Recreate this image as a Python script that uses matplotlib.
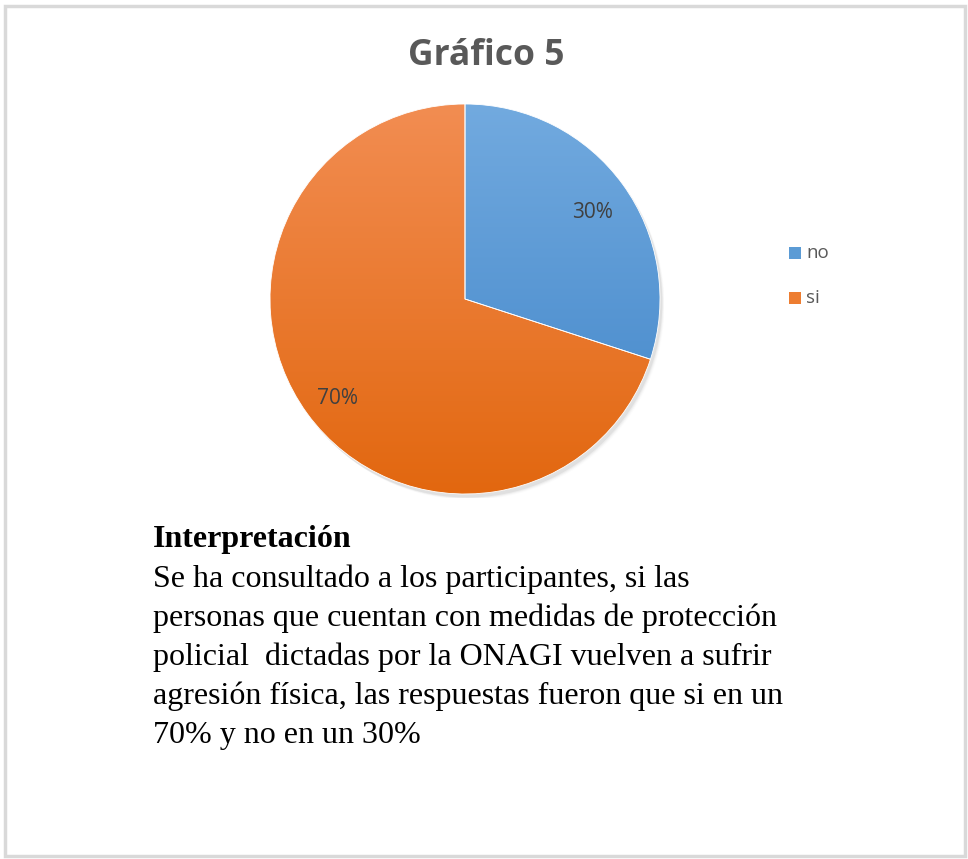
import numpy as np
import matplotlib
matplotlib.use("Agg")
import matplotlib.pyplot as plt
from matplotlib.colors import LinearSegmentedColormap
from matplotlib.patches import Rectangle

categories = ["no", "si"]
values = [30, 70]
title = "Gráfico 5"
heading = "Interpretación"
body_lines = [
    "Se ha consultado a los participantes, si las",
    "personas que cuentan con medidas de protección",
    "policial  dictadas por la ONAGI vuelven a sufrir",
    "agresión física, las respuestas fueron que si en un",
    "70% y no en un 30%",
]
base_colors = ["#5B9BD5", "#ED7D31"]
top_colors = ["#72AADF", "#F28D52"]
bottom_colors = ["#3F84C8", "#E2670F"]

W, H = 968, 859
fig = plt.figure(figsize=(W / 100, H / 100), dpi=100)
fig.patch.set_facecolor("white")

# border
fig.add_artist(Rectangle((5 / W, 3 / H), (W - 8) / W, (H - 9) / H,
                         transform=fig.transFigure, fill=False,
                         edgecolor="#D9D9D9", linewidth=2.5))

# pie axes: centre (465,299), radius 195 px
cx, cy, r = 465, 299, 195
lim = 1.02
ax = fig.add_axes([(cx - r * lim) / W, (H - cy - r * lim) / H,
                   2 * r * lim / W, 2 * r * lim / H])
ax.axis("off")

# soft shadow
for i, a in enumerate(np.linspace(0.05, 0.01, 4)):
    ax.add_patch(plt.Circle((0.012 + 0.004 * i, -0.018 - 0.004 * i), 1.0,
                            color="black", alpha=a, zorder=0, lw=0))

wedges, texts, autotexts = ax.pie(
    values, colors=base_colors, startangle=90, counterclock=False,
    autopct="%1.0f%%", pctdistance=0.81, radius=1.0,
    wedgeprops=dict(edgecolor="white", linewidth=0.6),
    textprops=dict(color="#404040", fontsize=15, family="Open Sans"),
)

# gradient fills
grad = np.linspace(1, 0, 256).reshape(-1, 1)
for w, tc, bc in zip(wedges, top_colors, bottom_colors):
    cmap = LinearSegmentedColormap.from_list("g", [bc, tc])
    im = ax.imshow(grad, extent=[-1, 1, -1, 1], origin="upper", cmap=cmap,
                   vmin=0, vmax=1, zorder=1.5, aspect="auto")
    im.set_clip_path(w)
    w.set_facecolor("none")
    w.set_zorder(2)
for t in autotexts:
    t.set_zorder(3)
    x, y = t.get_position()
    t.set_position((x, y - 0.032))
ax.set_xlim(-lim, lim)
ax.set_ylim(-lim, lim)
ax.set_aspect("equal")

# title
fig.text(486 / W, 1 - 56 / H, title, ha="center", va="center",
         fontsize=25.5, fontweight="bold", color="#595959", family="Open Sans")

# legend
leg_y = [253, 298]
for cat, col, y in zip(categories, base_colors, leg_y):
    fig.add_artist(Rectangle((789 / W, 1 - (y + 6) / H), 12 / W, 12 / H,
                             transform=fig.transFigure, facecolor=col,
                             edgecolor="none"))
    fig.text(806 / W, 1 - y / H, cat, ha="left", va="center",
             fontsize=13.5, color="#595959", family="Open Sans")

# interpretation text
fig.text(153 / W, 1 - 540 / H, heading, ha="left", va="center",
         fontsize=23, fontweight="bold", color="black", family="Liberation Serif")
for i, line in enumerate(body_lines):
    fig.text(153 / W, 1 - (579 + 39.2 * i) / H, line, ha="left", va="center",
             fontsize=23, color="black", family="Liberation Serif")

fig.savefig("out.png", dpi=100, facecolor="white")
